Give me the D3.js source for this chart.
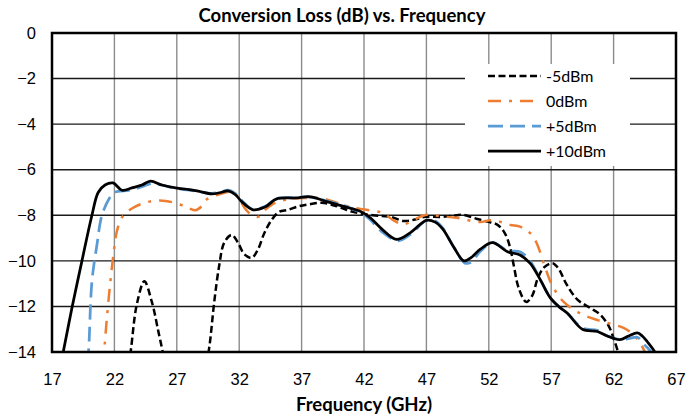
<!DOCTYPE html>
<html>
<head>
<meta charset="utf-8">
<script src="https://cdn.jsdelivr.net/npm/d3@7"></script>
<style>
  html, body { margin: 0; padding: 0; background: #fff; }
  svg { display: block; font-family: Lato, "Open Sans", "Liberation Sans", sans-serif; }
</style>
</head>
<body>
<svg id="chart" width="687" height="416"></svg>
<script>
// ---- Data ----
const title = "Conversion Loss (dB) vs. Frequency";
const xTitle = "Frequency (GHz)";
const xTicks = [17, 22, 27, 32, 37, 42, 47, 52, 57, 62, 67];
const yTicks = [0, -2, -4, -6, -8, -10, -12, -14];
const seriesNames = ["-5dBm", "0dBm", "+5dBm", "+10dBm"];

const m5Freq = [22.9,23.3,23.8,24.4,25.0,25.6,26.1,27.5,29.2,29.6,30.0,30.4,30.8,31.4,31.9,32.4,33.0,33.5,34.0,34.6,35.2,35.9,36.8,37.6,38.6,39.8,41.1,42.7,44.1,45.2,46.0,46.9,48.1,49.0,49.9,51.0,51.9,52.7,53.3,53.7,54.0,54.4,55.0,55.5,55.9,56.4,57.1,57.6,58.2,59.1,60.1,60.9,61.6,62.0,62.4,62.7];
const m5Loss = [-15.5,-14,-11.9,-10.9,-11.8,-13.3,-14.5,-17,-15,-13.8,-11.8,-10.2,-9.2,-8.86,-9.2,-9.7,-9.87,-9.5,-8.8,-8.2,-7.85,-7.76,-7.6,-7.52,-7.45,-7.6,-7.85,-8.0,-8.07,-8.25,-8.2,-8.07,-8.07,-8.03,-7.98,-8.15,-8.28,-8.42,-8.8,-9.4,-10.2,-11.2,-11.8,-11.5,-10.8,-10.3,-10.1,-10.35,-11.0,-11.7,-12.06,-12.35,-12.85,-13.4,-14.1,-15.0];

const p0Freq = [21.1,21.25,21.4,21.65,21.95,22.2,22.6,23.4,24.8,26.1,27.3,28.0,28.5,29.0,29.4,30.3,31.5,32.0,32.7,33.5,34.0,34.6,35.7,37.3,38.6,39.9,41.0,42.2,43.5,44.3,45.1,46.0,47.0,48.2,49.4,51.3,52.1,53.0,53.7,54.5,55.0,55.5,55.9,56.4,57.1,58.0,59.3,60.7,62.0,62.8,63.5,64.0,64.5,64.8];
const p0Loss = [-14.6,-13.5,-12.5,-11.05,-9.6,-8.7,-8.1,-7.7,-7.4,-7.37,-7.54,-7.7,-7.78,-7.6,-7.3,-7.1,-6.97,-7.3,-7.85,-8.07,-7.8,-7.54,-7.32,-7.24,-7.25,-7.46,-7.65,-7.76,-7.9,-8.2,-8.4,-8.2,-7.98,-8.05,-8.11,-8.3,-8.22,-8.3,-8.42,-8.5,-8.64,-8.9,-9.3,-10.1,-11.1,-11.8,-12.3,-12.6,-12.8,-12.94,-13.2,-13.5,-14,-14.5];

const p5Freq = [19.85,19.95,20.2,20.6,21.0,21.6,22.0,23.2,24.2,25.0,25.8,26.9,28.0,28.8,29.8,30.5,31.1,31.7,32.2,33.1,34.1,35.0,36.5,37.7,39.1,40.5,41.1,41.8,42.5,43.5,44.7,45.7,47.0,47.7,48.3,49.2,50.1,50.6,51.3,52.3,53.5,54.5,55.3,56.1,56.9,57.6,58.3,59.5,60.7,61.5,62.5,63.3,63.9,64.5,65.0,65.3];
const p5Loss = [-14.5,-13.8,-10.9,-9.3,-8.0,-7.25,-7.0,-6.9,-6.75,-6.6,-6.67,-6.82,-6.9,-6.97,-7.04,-6.98,-6.9,-7.05,-7.35,-7.74,-7.6,-7.27,-7.22,-7.2,-7.38,-7.6,-7.72,-7.9,-8.2,-8.75,-9.12,-8.85,-8.22,-8.25,-8.55,-9.4,-10.1,-10.05,-9.6,-9.2,-9.55,-9.6,-10.0,-10.8,-11.6,-12.0,-12.3,-12.95,-13.05,-13.3,-13.45,-13.4,-13.35,-13.7,-14,-14.4];

const p10Freq = [17.7,17.9,18.6,19.4,20.2,20.7,21.25,21.9,22.6,23.4,24.2,24.9,25.8,26.9,28.0,28.8,29.8,30.5,31.1,31.7,32.2,33.1,34.1,35.0,36.5,37.7,39.1,40.5,41.1,41.8,42.5,43.5,44.6,45.7,47.0,47.7,48.3,49.2,50.0,50.6,51.3,52.3,53.5,54.5,55.3,56.1,56.9,57.6,58.3,59.5,60.7,61.5,62.5,63.2,63.9,64.3,64.7,65.3,65.6];
const p10Loss = [-14.5,-14,-12.06,-10.0,-8.0,-7.0,-6.67,-6.58,-6.9,-6.8,-6.67,-6.5,-6.67,-6.8,-6.87,-6.95,-7.06,-7.0,-6.93,-7.1,-7.4,-7.76,-7.63,-7.28,-7.24,-7.19,-7.41,-7.63,-7.72,-7.85,-8.11,-8.64,-9.06,-8.77,-8.22,-8.3,-8.6,-9.4,-10.0,-9.85,-9.5,-9.2,-9.6,-9.74,-10.1,-10.8,-11.6,-12.0,-12.3,-13.0,-13.1,-13.3,-13.46,-13.3,-13.16,-13.3,-13.55,-14,-14.4];

// ---- Layout ----
const svg = d3.select("#chart");
const L = 52, R = 676, T = 33, B = 352;
const x = d3.scaleLinear().domain([17, 67]).range([L, R]);
const y = d3.scaleLinear().domain([0, -14]).range([T, B]);

// Title
svg.append("text").attr("x", 342).attr("y", 22).attr("text-anchor", "middle")
  .attr("font-weight", "bold").attr("font-size", 18.5).attr("fill", "#000").text(title);

// Grid lines
svg.append("g").selectAll("line").data(xTicks.slice(1, -1)).join("line")
  .attr("x1", d => x(d)).attr("x2", d => x(d)).attr("y1", T).attr("y2", B)
  .attr("stroke", "#8c8c8c").attr("stroke-width", 1.4);
svg.append("g").selectAll("line").data(yTicks.slice(1, -1)).join("line")
  .attr("x1", L).attr("x2", R).attr("y1", d => y(d)).attr("y2", d => y(d))
  .attr("stroke", "#1a1a1a").attr("stroke-width", 1.4);

// Axes labels (using d3 axes, domain hidden)
const xAxis = svg.append("g").attr("transform", `translate(0,${B})`)
  .call(d3.axisBottom(x).tickValues(xTicks).tickSize(0).tickPadding(21).tickFormat(d3.format("d")));
xAxis.select(".domain").remove();
xAxis.selectAll("text").attr("font-size", 16.5).attr("fill", "#000").attr("font-family", null);

const yAxis = svg.append("g").attr("transform", `translate(${L},0)`)
  .call(d3.axisLeft(y).tickValues(yTicks).tickSize(0).tickPadding(16).tickFormat(d3.format("d")));
yAxis.select(".domain").remove();
yAxis.selectAll("text").attr("font-size", 16.5).attr("fill", "#000").attr("font-family", null);

svg.append("text").attr("x", x(42)).attr("y", 411).attr("text-anchor", "middle")
  .attr("font-weight", "bold").attr("font-size", 18.5).attr("fill", "#000").text(xTitle);

// Legend background (covers grid)
const legX = 465, legY = 64;
svg.append("rect").attr("x", legX).attr("y", legY).attr("width", 165).attr("height", 102).attr("fill", "#fff");

// Clip
svg.append("clipPath").attr("id", "clip").append("rect")
  .attr("x", L).attr("y", T).attr("width", R - L).attr("height", B - T);

const styles = [
  { color: "#000000", width: 2.5, dash: "7,3.5" },
  { color: "#ED7D31", width: 2.5, dash: "13,8,3,8" },
  { color: "#5B9BD5", width: 2.75, dash: "15,7" },
  { color: "#000000", width: 2.75, dash: null }
];
const seriesData = [
  d3.zip(m5Freq, m5Loss),
  d3.zip(p0Freq, p0Loss),
  d3.zip(p5Freq, p5Loss),
  d3.zip(p10Freq, p10Loss)
];
const line = d3.line().x(d => x(d[0])).y(d => y(d[1])).curve(d3.curveCatmullRom.alpha(0.5));
const gLines = svg.append("g").attr("clip-path", "url(#clip)");
seriesData.forEach((data, i) => {
  gLines.append("path").datum(data).attr("d", line).attr("fill", "none")
    .attr("stroke", styles[i].color).attr("stroke-width", styles[i].width)
    .attr("stroke-dasharray", styles[i].dash).attr("stroke-linejoin", "round");
});

// Plot border
svg.append("rect").attr("x", L).attr("y", T).attr("width", R - L).attr("height", B - T)
  .attr("fill", "none").attr("stroke", "#000").attr("stroke-width", 2.5);

// Legend
const leg = svg.append("g");
seriesNames.forEach((name, i) => {
  const yy = 76 + i * 25;
  leg.append("line").attr("x1", 488).attr("x2", 541).attr("y1", yy).attr("y2", yy)
    .attr("stroke", styles[i].color).attr("stroke-width", styles[i].width)
    .attr("stroke-dasharray", styles[i].dash);
  leg.append("text").attr("x", 546).attr("y", yy + 6).attr("font-size", 16).attr("fill", "#000").text(name);
});
</script>
</body>
</html>
